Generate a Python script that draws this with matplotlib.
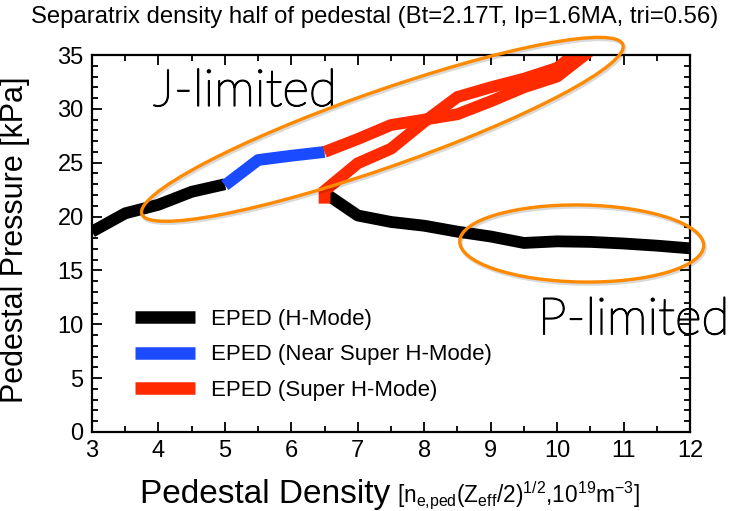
import matplotlib
matplotlib.use("Agg")
import matplotlib.pyplot as plt
import matplotlib.patheffects as pe
from matplotlib.patches import Ellipse
from matplotlib.transforms import IdentityTransform
from matplotlib.ticker import MultipleLocator

plt.rcParams['font.family'] = ['Liberation Sans', 'DejaVu Sans']
plt.rcParams['mathtext.fontset'] = 'custom'
plt.rcParams['mathtext.rm'] = 'Liberation Sans'
plt.rcParams['mathtext.it'] = 'Liberation Sans:italic'

# EPED H-mode solution (black), two pieces either side of the super H-mode jump
hmode_low_x = [3.0, 3.5, 4.0, 4.5, 5.0]
hmode_low_y = [18.6, 20.3, 21.1, 22.3, 23.0]
hmode_high_x = [6.5, 7.0, 7.5, 8.0, 8.5, 9.0, 9.5, 10.0, 10.5, 11.0, 11.5, 12.0]
hmode_high_y = [22.2, 20.1, 19.5, 19.15, 18.6, 18.15, 17.55, 17.7, 17.65, 17.5, 17.3, 17.05]

# near super H-mode (blue)
near_x = [5.0, 5.5, 6.0, 6.5]
near_y = [22.9, 25.25, 25.65, 26.0]

# super H-mode, two branches (red)
super_a_x = [6.5, 7.0, 7.5, 8.0, 8.5, 9.0, 9.5, 10.0, 10.5]
super_a_y = [26.0, 27.2, 28.5, 29.0, 29.5, 30.7, 32.0, 33.0, 35.4]
super_b_x = [6.5, 6.5, 7.0, 7.5, 8.0, 8.5, 9.0, 9.5, 10.0, 10.5]
super_b_y = [21.2, 22.4, 24.95, 26.3, 28.8, 31.1, 32.0, 32.8, 33.8, 36.2]

labels = ['EPED (H-Mode)', 'EPED (Near Super H-Mode)', 'EPED (Super H-Mode)']
colors = ['black', '#1a4bff', '#ff2a00']

title = 'Separatrix density half of pedestal (Bt=2.17T, Ip=1.6MA, tri=0.56)'

fig = plt.figure(figsize=(7.33, 5.11), dpi=100)
ax = fig.add_axes([92 / 733, 1 - 432 / 511, 598 / 733, 377 / 511])

lw = 8.5
ax.plot(hmode_low_x, hmode_low_y, color=colors[0], lw=lw, solid_capstyle='butt', label=labels[0])
ax.plot(hmode_high_x, hmode_high_y, color=colors[0], lw=lw, solid_capstyle='butt')
ax.plot(near_x, near_y, color=colors[1], lw=lw, solid_capstyle='butt', label=labels[1])
ax.plot(super_a_x, super_a_y, color=colors[2], lw=lw, solid_capstyle='butt', label=labels[2])
ax.plot(super_b_x, super_b_y, color=colors[2], lw=lw, solid_capstyle='butt', solid_joinstyle='miter')

ax.set_xlim(3, 12)
ax.set_ylim(0, 35)
ax.xaxis.set_major_locator(MultipleLocator(1))
ax.xaxis.set_minor_locator(MultipleLocator(0.5))
ax.yaxis.set_major_locator(MultipleLocator(5))
ax.yaxis.set_minor_locator(MultipleLocator(1))
ax.tick_params(which='both', direction='in', top=True, right=True, width=1.3, labelsize=17)
ax.tick_params(which='major', length=7, pad=6)
ax.tick_params(which='minor', length=4.5)
for s in ax.spines.values():
    s.set_linewidth(1.6)

ax.set_ylabel('Pedestal Pressure [kPa]', fontsize=22)
ax.yaxis.set_label_coords(-0.104, 0.51)

leg = ax.legend(loc='upper left', bbox_to_anchor=(0.072, 0.327), frameon=False, fontsize=16,
                handlelength=2.7, handletextpad=0.7, labelspacing=0.66, borderpad=0, borderaxespad=0)
for h in leg.get_lines():
    h.set_linewidth(9)

fig.text(0.511, 1 - 17 / 511, title, ha='center', va='center', fontsize=17.2)

# x label: big words followed by a smaller bracket with units
t1 = fig.text(140 / 733, 1 - 503 / 511, 'Pedestal Density', fontsize=24, va='baseline', ha='left')
fig.canvas.draw()
bb = t1.get_window_extent()
fig.text((bb.x1 + 7) / 733, 1 - 503 / 511,
         r'[$\mathregular{n_{e{,}ped}(Z_{eff}/2)^{1/2}}$,$\mathregular{10^{19}m^{-3}}$]',
         fontsize=16.3, va='baseline', ha='left')

# region annotations (thin geometric lettering in the original)
thin = [pe.withStroke(linewidth=1.1, foreground='black')]
ax.text(5.3, 31.6, 'J-limited', fontsize=37, family='Lato', fontweight='light',
        ha='center', va='center', path_effects=thin)
ax.text(11.15, 10.4, 'P-limited', fontsize=37, family='Lato', fontweight='light',
        ha='center', va='center', clip_on=False, path_effects=thin)

orange = '#ff8a00'
ellipses = [
    # (center x, center y in data, width px, height px, angle deg)
    (7.37, 28.1, 510, 76, 19.4),
    (10.37, 17.5, 244, 77, -1.0),
]
for cx, cy, w, h, ang in ellipses:
    px, py = ax.transData.transform((cx, cy))
    e = Ellipse((px, py), w, h, angle=ang, fill=False, edgecolor=orange, lw=2.4,
                transform=IdentityTransform(), clip_on=False, zorder=5,
                path_effects=[pe.SimpleLineShadow(offset=(1, -1.5), alpha=0.15), pe.Normal()])
    fig.add_artist(e)

fig.savefig('out.png', dpi=100)
